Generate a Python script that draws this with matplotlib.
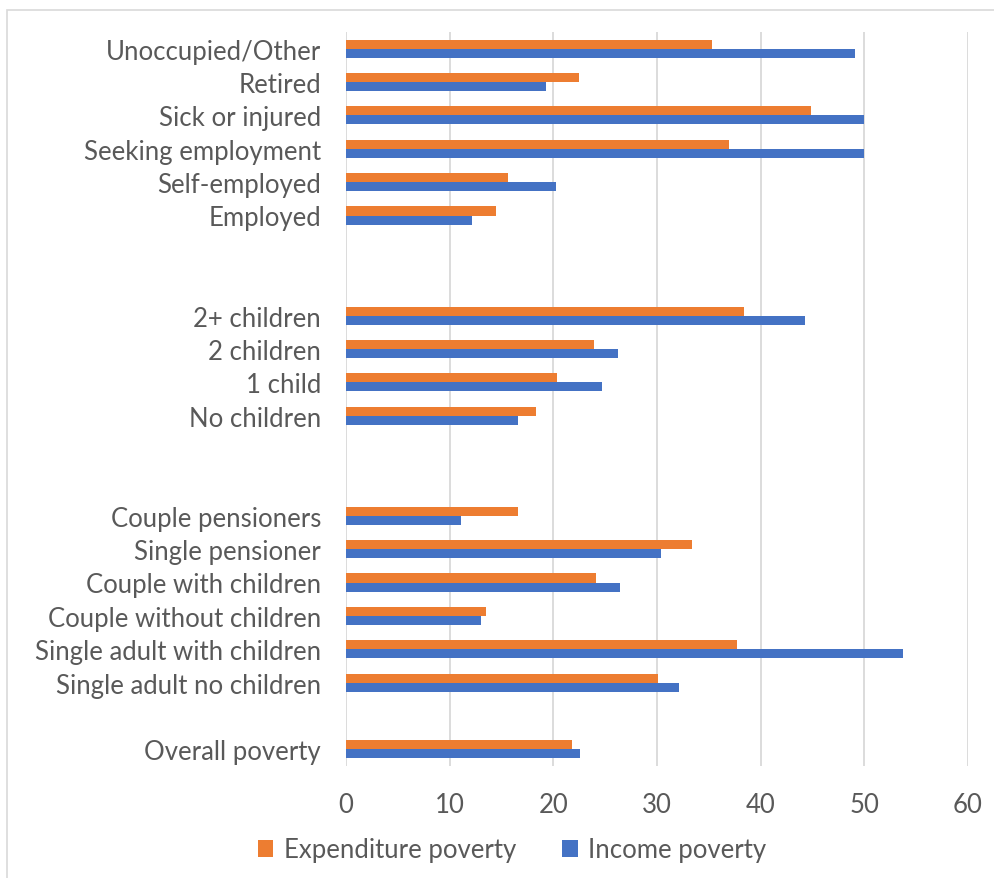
import matplotlib.pyplot as plt
from matplotlib.patches import Rectangle

# categories from bottom to top; "" marks the spacer rows between groups
categories = [
    "Overall poverty", "",
    "Single adult no children", "Single adult with children",
    "Couple without children", "Couple with children",
    "Single pensioner", "Couple pensioners", "", "",
    "No children", "1 child", "2 children", "2+ children", "", "",
    "Employed", "Self-employed", "Seeking employment",
    "Sick or injured", "Retired", "Unoccupied/Other",
]
expenditure = [
    21.8, None,
    30.1, 37.7, 13.5, 24.1, 33.4, 16.6, None, None,
    18.3, 20.4, 23.9, 38.4, None, None,
    14.5, 15.6, 36.9, 44.9, 22.5, 35.3,
]
income = [
    22.6, None,
    32.1, 53.7, 13.0, 26.4, 30.4, 11.1, None, None,
    16.6, 24.7, 26.2, 44.3, None, None,
    12.2, 20.3, 50.0, 50.0, 19.3, 49.1,
]
x_ticks = [0, 10, 20, 30, 40, 50, 60]

orange = "#ED7D31"
blue = "#4472C4"
text_col = "#595959"
grid_col = "#D9D9D9"
font = "Lato"
fs = 18.5

fig = plt.figure(figsize=(9.94, 8.79), dpi=100)
ax = fig.add_axes([346 / 994, 1 - 767 / 879, 622 / 994, 734 / 879])

h = 0.27
for i, (e, v) in enumerate(zip(expenditure, income)):
    if e is None:
        continue
    ax.barh(i + h / 2, e, height=h, color=orange, label="Expenditure poverty" if i == 0 else None)
    ax.barh(i - h / 2, v, height=h, color=blue, label="Income poverty" if i == 0 else None)

ax.set_xlim(0, 60)
ax.set_ylim(-0.5, len(categories) - 0.5)
ax.set_yticks(range(len(categories)))
ax.set_yticklabels(categories, fontsize=fs, color=text_col, family=font)
ax.set_xticks(x_ticks)
ax.set_xticklabels([str(t) for t in x_ticks], fontsize=fs, color=text_col, family=font)
ax.tick_params(axis="y", length=0, pad=18)
ax.tick_params(axis="x", length=0, pad=19)
ax.grid(axis="x", color=grid_col, linewidth=1.3)
ax.set_axisbelow(True)
for s in ax.spines.values():
    s.set_visible(False)

ax.legend(loc="center", bbox_to_anchor=(512 / 994, 1 - 851 / 879),
          bbox_transform=fig.transFigure, ncol=2, frameon=False,
          prop={"family": font, "size": fs}, labelcolor=text_col,
          handlelength=0.6, handleheight=0.6, handletextpad=0.4, columnspacing=1.8)

# chart area border
fig.patches.append(Rectangle((7 / 994, -0.05), 1.2, 1 - 11 / 879 + 0.05,
                             transform=fig.transFigure, fill=False,
                             edgecolor="#D9D9D9", linewidth=1.2))

fig.savefig("out.png", dpi=100)
